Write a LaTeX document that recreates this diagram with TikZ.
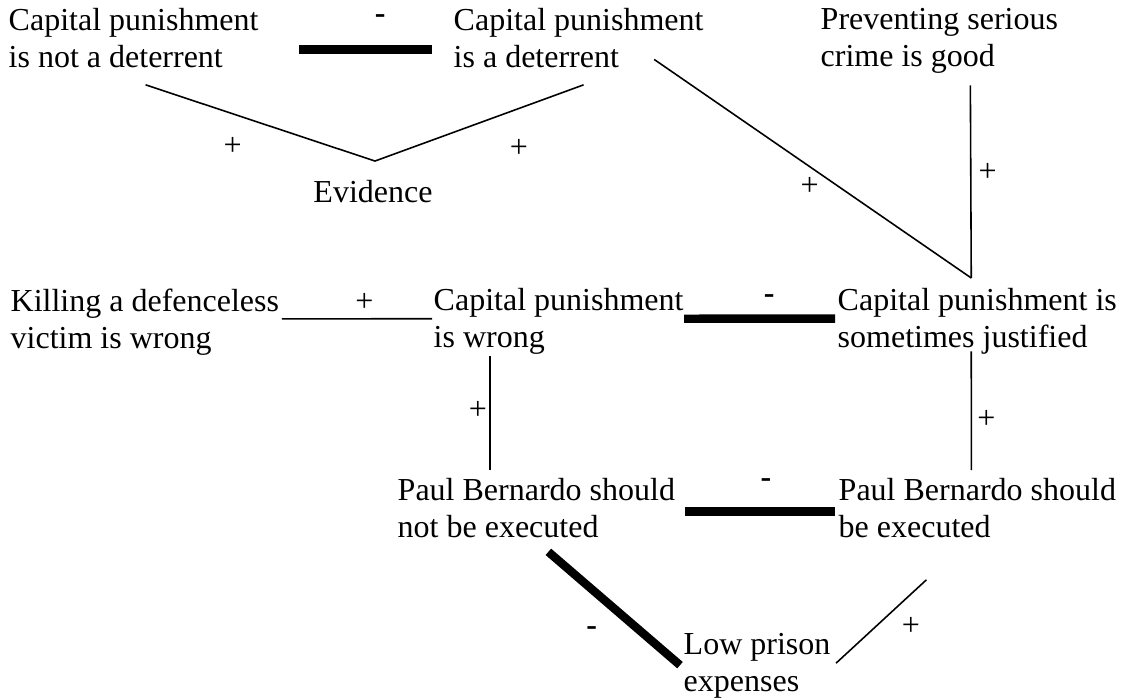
\documentclass[tikz,border=0pt]{standalone}
\usepackage{fontspec}
\setmainfont{Liberation Serif}
\usepackage{tikz}
\usetikzlibrary{positioning}

\begin{document}
\begin{tikzpicture}[x=0.01cm, y=-0.01cm,
    claim/.style={anchor=north west, align=left, inner sep=0pt, font=\fontsize{9.1}{10.5}\selectfont},
    sign/.style={inner sep=0pt, font=\fontsize{9.1}{10.5}\selectfont},
    notch/.style={sign, fill=white, anchor=south west, text depth=3.1pt},
    support/.style={line width=0.45pt},
    clash/.style={line width=2.4pt}]
            \useasboundingbox (0,0) rectangle (1121,700);
            % Claims
            \node[claim] (notdet) at (8,8) {Capital punishment\\is not a deterrent};
            \node[claim] (isdet) at (453,8) {Capital punishment\\is a deterrent};
            \node[claim] (prevent) at (820,8) {Preventing serious\\crime is good};
            \node[claim, anchor=center] (evidence) at (373,192) {Evidence};
            \node[claim] (killing) at (10,288) {Killing a defenceless\\victim is wrong};
            \node[claim] (cpwrong) at (433,288) {Capital punishment\\is wrong};
            \node[claim] (justified) at (837,288) {Capital punishment is\\sometimes justified};
            \node[claim] (notexec) at (397,478) {Paul Bernardo should\\not be executed};
            \node[claim] (exec) at (838,478) {Paul Bernardo should\\be executed};
            \node[claim] (prison) at (683,633) {Low prison\\expenses};

            % Conflicts
            \draw[clash] ([shift={(40,11)}]notdet.east) -- node[sign, pos=.61, shift={(0,-30)}] {\textbf{-}} ([shift={(-21,11)}]isdet.west);
            \draw[clash] ([shift={(0,-3)}]cpwrong.east) -- node[notch, pos=.5] {\textbf{-}\hspace*{2.7pt}} ([shift={(-2,-3)}]justified.west);
            \draw[clash] ([shift={(9,3)}]notexec.east) -- node[sign, pos=.54, shift={(0,-28)}] {\textbf{-}} ([shift={(-3,3)}]exec.west);
            \draw[clash] ([shift={(12,13)}]notexec.south) -- node[sign, pos=.33, shift={(0,42)}] {\textbf{-}} ([shift={(-3,-1)}]prison.west);

            % Supports
            \draw[support] ([shift={(12,16)}]notdet.south) -- node[sign, pos=.38, shift={(0,33)}] {+} ([shift={(2,-19)}]evidence.north)
                -- node[sign, pos=.69, shift={(0,40)}] {+} ([shift={(5,16)}]isdet.south);
            \draw[support] ([shift={(-50,21)}]isdet.east) -- node[sign, pos=.49, shift={(0,20)}] {+} ([shift={(-6,-10)}]justified.north);
            \draw[support] ([shift={(31,11)}]prevent.south) -- node[sign, pos=.45, shift={(17,0)}] {+} ([shift={(-6,-10)}]justified.north);
            \draw[support] ([shift={(2,-3)}]killing.east) -- node[sign, pos=.55, shift={(0,-16)}] {+} ([shift={(-1,-3)}]cpwrong.west);
            \draw[support] ([shift={(57,1)}]cpwrong.south west) -- node[sign, pos=.48, shift={(-12,0)}] {+} ([shift={(93,-8)}]notexec.north west);
            \draw[support] ([shift={(-6,-4)}]justified.south) -- node[sign, pos=.57, shift={(15,0)}] {+} ([shift={(-6,-8)}]exec.north);
            \draw[support] ([shift={(5,-3)}]prison.east) -- node[sign, pos=.83, shift={(0,32)}] {+} ([shift={(-51,41)}]exec.south);
        \end{tikzpicture}
\end{document}
